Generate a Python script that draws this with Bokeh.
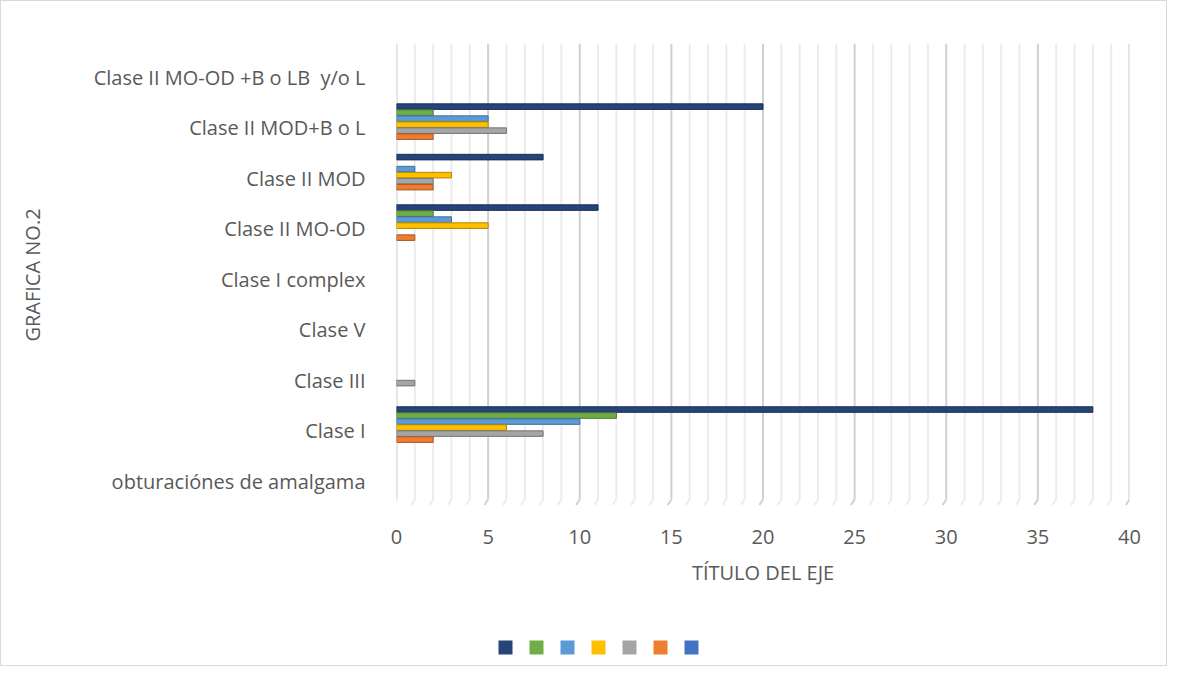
from bokeh.plotting import figure
from bokeh.layouts import column
from bokeh.models import ColumnDataSource, FixedTicker
from bokeh.embed import file_html
from bokeh.resources import INLINE

categories = ["obturaciónes de amalgama", "Clase I", "Clase III", "Clase V",
              "Clase I complex", "Clase II MO-OD", "Clase II MOD",
              "Clase II MOD+B o L", "Clase II MO-OD +B o LB  y/o L"]

# series listed top-to-bottom within each group (legend order)
series_names = ["S1", "S2", "S3", "S4", "S5", "S6", "S7"]
series_colors = ["#264478", "#70AD47", "#5B9BD5", "#FFC000", "#A5A5A5", "#ED7D31", "#4472C4"]
series_edges = ["#1a2f55", "#4f7a32", "#3f6f9a", "#b38700", "#747474", "#a85822", "#2f5189"]

s1 = [0, 38, 0, 0, 0, 11, 8, 20, 0]
s2 = [0, 12, 0, 0, 0, 2, 0, 2, 0]
s3 = [0, 10, 0, 0, 0, 3, 1, 5, 0]
s4 = [0, 6, 0, 0, 0, 5, 3, 5, 0]
s5 = [0, 8, 1, 0, 0, 0, 2, 6, 0]
s6 = [0, 2, 0, 0, 0, 1, 2, 2, 0]
s7 = [0, 0, 0, 0, 0, 0, 0, 0, 0]
series_values = [s1, s2, s3, s4, s5, s6, s7]

x_ticks = [0, 5, 10, 15, 20, 25, 30, 35, 40]

TXT = "#595959"
FONT = "Open Sans"
FS = "20px"
W = 1165

p = figure(width=W, height=600, output_backend="svg", toolbar_location=None,
           x_range=(0, 40), y_range=(-0.5, 8.67),
           min_border_left=395, min_border_right=37, min_border_top=42,
           min_border_bottom=95)
p.outline_line_color = None
p.background_fill_color = "white"
p.border_fill_color = "white"
p.xgrid.grid_line_color = None
p.ygrid.grid_line_color = None

# back-wall gridlines (every unit, darker every 5) with slanted floor marks
gx = list(range(0, 41))
gcol = ["#d0d0d0" if v % 5 == 0 else "#ececec" for v in gx]
gsrc = ColumnDataSource(dict(x0=gx, y0=[-0.36] * len(gx), x1=gx, y1=[8.67] * len(gx),
                             fx=[v - 0.2 for v in gx], fy=[-0.47] * len(gx), c=gcol))
p.segment(x0="x0", y0="y0", x1="x1", y1="y1", line_color="c", line_width=2, source=gsrc)
p.segment(x0="x0", y0="y0", x1="fx", y1="fy", line_color="c", line_width=2, source=gsrc)

bar_h = 0.11
step = 0.119
top_off = 0.42
for i, (name, vals) in enumerate(zip(series_names, series_values)):
    ys = [k + top_off - step * i for k in range(len(categories))]
    la = [1.0 if v > 0 else 0.0 for v in vals]
    src = ColumnDataSource(dict(y=ys, right=vals, la=la))
    p.hbar(y="y", left=0, right="right", height=bar_h, source=src,
           fill_color=series_colors[i], line_color=series_edges[i],
           line_alpha="la", line_width=1)

# axes
p.xaxis.ticker = FixedTicker(ticks=x_ticks)
p.yaxis.ticker = FixedTicker(ticks=list(range(len(categories))))
p.yaxis.major_label_overrides = {i: c.replace("  ", "\u00a0 ") for i, c in enumerate(categories)}
for ax in (p.xaxis, p.yaxis):
    ax.axis_line_color = None
    ax.major_tick_line_color = None
    ax.minor_tick_line_color = None
    ax.major_label_text_font = FONT
    ax.major_label_text_font_size = FS
    ax.major_label_text_color = TXT
    ax.axis_label_text_font = FONT
    ax.axis_label_text_font_size = FS
    ax.axis_label_text_font_style = "normal"
    ax.axis_label_text_color = TXT

p.yaxis.major_label_standoff = 25
p.yaxis.axis_label = "GRAFICA NO.2"
p.yaxis.axis_label_standoff = 45

p.xaxis.major_label_standoff = 17
p.xaxis.axis_label = "TÍTULO DEL EJE"
p.xaxis.axis_label_standoff = 12

# legend strip: one unlabeled swatch per series, as in the reference
# (its frame is aligned with the main frame by the column layout)
lg = figure(width=W, height=64, output_backend="svg", toolbar_location=None,
            x_range=(-3.516, 20.129), y_range=(0, 64), min_border=0)
lg.axis.visible = False
lg.grid.visible = False
lg.outline_line_color = None
lg.border_fill_color = "white"
lsrc = ColumnDataSource(dict(x=list(range(len(series_names))),
                             y=[18] * len(series_names),
                             c=series_colors, name=series_names))
lg.scatter(x="x", y="y", marker="square", size=14, fill_color="c",
           line_color=None, source=lsrc)

layout = column(p, lg, spacing=0)
layout.styles = {"border": "1px solid #d9d9d9"}

open("out.html", "w").write(file_html(layout, INLINE))
